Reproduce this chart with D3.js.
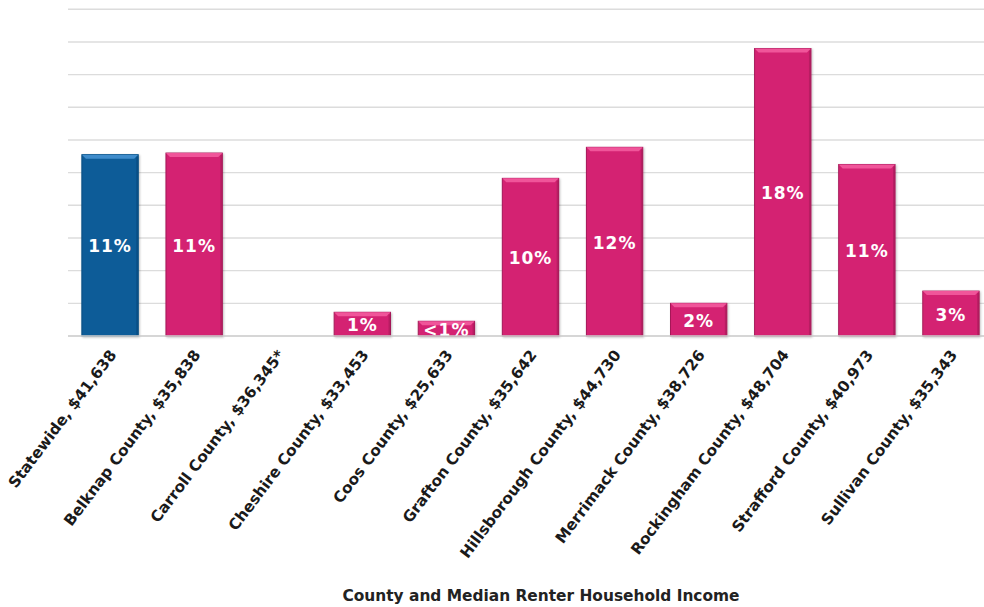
<!DOCTYPE html>
<html>
<head>
<meta charset="utf-8">
<script src="https://cdn.jsdelivr.net/npm/d3@7"></script>
<style>
  html, body { margin: 0; padding: 0; background: #fff; }
  svg { display: block; }
</style>
</head>
<body>
<svg id="chart" width="984" height="607"></svg>
<script>
const categories = [
  "Statewide, $41,638",
  "Belknap County, $35,838",
  "Carroll County, $36,345*",
  "Cheshire County, $33,453",
  "Coos County, $25,633",
  "Grafton County, $35,642",
  "Hillsborough County, $44,730",
  "Merrimack County, $38,726",
  "Rockingham County, $48,704",
  "Strafford County, $40,973",
  "Sullivan County, $35,343"
];
const values = [11.1, 11.2, null, 1.45, 0.9, 9.65, 11.55, 2.0, 17.6, 10.5, 2.75];
const valueLabels = ["11%", "11%", "", "1%", "<1%", "10%", "12%", "2%", "18%", "11%", "3%"];
const yTicks = [0, 2, 4, 6, 8, 10, 12, 14, 16, 18, 20];
const axisTitle = "County and Median Renter Household Income";

const svg = d3.select("#chart");
const plotLeft = 68, plotRight = 993, plotTop = 9.3, plotBottom = 336;

const x = d3.scaleBand().domain(categories).range([plotLeft, plotRight])
  .paddingInner(0.33).paddingOuter(0.165);
const y = d3.scaleLinear().domain([0, 20]).range([plotBottom, plotTop]);

// gridlines
svg.append("g").selectAll("line").data(yTicks).join("line")
  .attr("x1", plotLeft).attr("x2", 984)
  .attr("y1", d => y(d)).attr("y2", d => y(d))
  .attr("stroke", "#dcdcdc").attr("stroke-width", 1.4);

const palette = {
  blue: { main: "#0a5b98", light: "#3f8ccb", dark: "#074a7e" },
  pink: { main: "#d42372", light: "#f0559a", dark: "#a51a58" }
};

const data = categories.map((c, i) => ({ c, v: values[i], lab: valueLabels[i], col: i === 0 ? palette.blue : palette.pink }))
  .filter(d => d.v != null);

const defs = svg.append("defs");
const flt = defs.append("filter").attr("id", "sh").attr("x", "-20%").attr("y", "-20%").attr("width", "140%").attr("height", "140%");
flt.append("feDropShadow").attr("dx", 1).attr("dy", 1).attr("stdDeviation", 1).attr("flood-color", "#000").attr("flood-opacity", 0.25);

const bars = svg.append("g").selectAll("g").data(data).join("g");

bars.append("rect")
  .attr("x", d => x(d.c)).attr("y", d => y(d.v))
  .attr("width", x.bandwidth()).attr("height", d => y(0) - y(d.v))
  .attr("fill", d => d.col.main)
  .attr("stroke", d => d.col.dark).attr("stroke-width", 1)
  .attr("filter", "url(#sh)");

// bevel highlight on top
bars.append("path")
  .attr("d", d => {
    const x0 = x(d.c), x1 = x0 + x.bandwidth(), t = y(d.v);
    const b = 4;
    return `M${x0},${t} L${x1},${t} L${x1 - b},${t + b} L${x0 + b},${t + b} Z`;
  })
  .attr("fill", d => d.col.light);

// side shading
bars.append("rect")
  .attr("x", d => x(d.c) + x.bandwidth() - 2).attr("y", d => y(d.v) + 2)
  .attr("width", 2).attr("height", d => Math.max(0, y(0) - y(d.v) - 2))
  .attr("fill", d => d.col.dark).attr("opacity", 0.6);

// value labels
bars.append("text")
  .attr("x", d => x(d.c) + x.bandwidth() / 2)
  .attr("y", d => (y(d.v) + y(0)) / 2 + 1)
  .attr("text-anchor", "middle")
  .attr("dominant-baseline", "central")
  .attr("font-family", "DejaVu Sans, Verdana, sans-serif")
  .attr("font-weight", "bold")
  .attr("font-size", 17)
  .attr("letter-spacing", 1)
  .attr("fill", "#fff")
  .text(d => d.lab);

// baseline
svg.append("line").attr("x1", plotLeft).attr("x2", 984).attr("y1", y(0)).attr("y2", y(0))
  .attr("stroke", "#d0d0d0").attr("stroke-width", 1.4);

// x tick labels
svg.append("g").selectAll("text").data(categories).join("text")
  .attr("transform", d => `translate(${x(d) + x.bandwidth() / 2 + 7},355) rotate(-53)`)
  .attr("text-anchor", "end")
  .attr("font-family", "DejaVu Sans, Verdana, sans-serif")
  .attr("font-weight", "bold")
  .attr("font-size", 15.3)
  .attr("fill", "#1a1a1a")
  .text(d => d);

svg.append("text")
  .attr("x", 541).attr("y", 601)
  .attr("text-anchor", "middle")
  .attr("font-family", "DejaVu Sans, Verdana, sans-serif")
  .attr("font-weight", "bold")
  .attr("font-size", 15.4)
  .attr("fill", "#222")
  .text(axisTitle);
</script>
</body>
</html>
